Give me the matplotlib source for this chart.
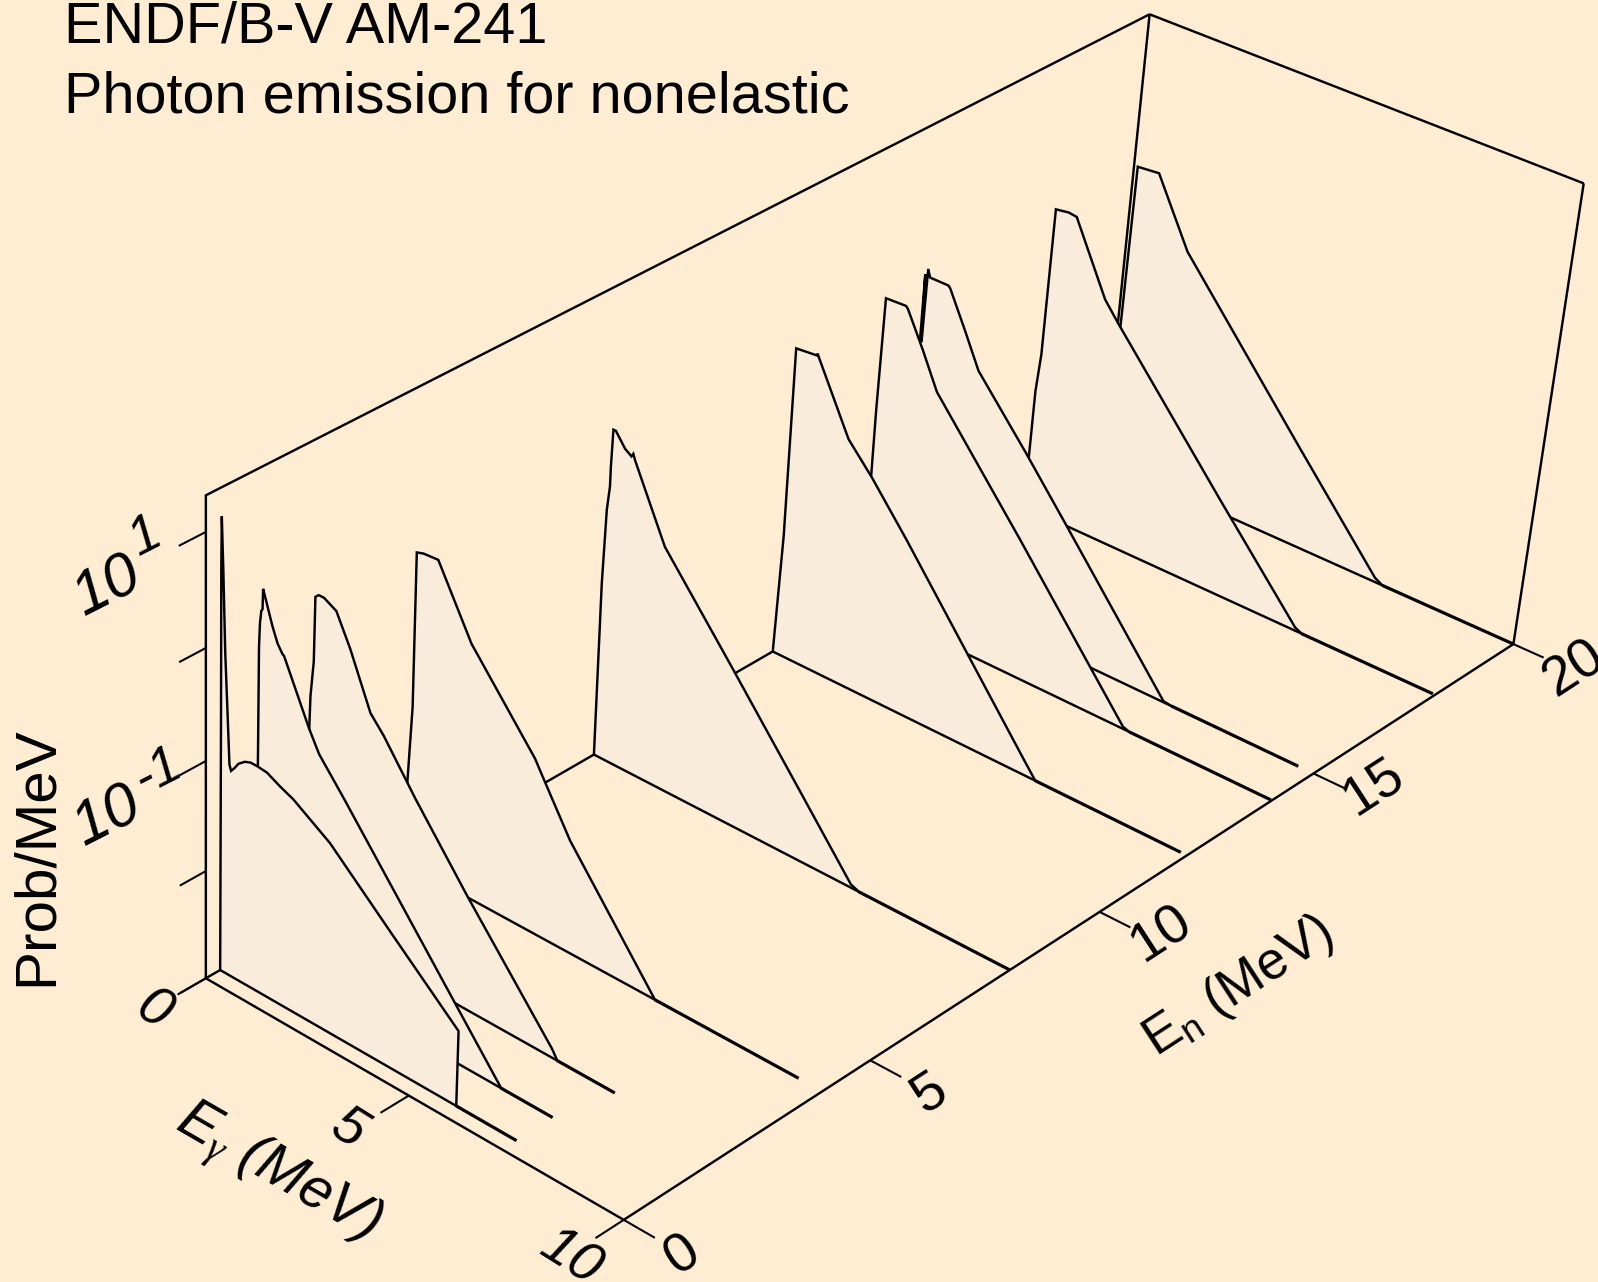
import numpy as np
import matplotlib
matplotlib.use('Agg')
import matplotlib.pyplot as plt

plt.rcParams['font.family'] = ['Liberation Sans', 'DejaVu Sans']
plt.rcParams['mathtext.fontset'] = 'custom'
plt.rcParams['mathtext.rm'] = 'Liberation Sans'
plt.rcParams['mathtext.it'] = 'Liberation Sans:italic'
plt.rcParams['mathtext.cal'] = 'Liberation Serif:italic'
plt.rcParams['mathtext.default'] = 'regular'

BG = '#feedd3'
FILL = '#faecdb'

# incident energies of the slices, MeV
en_vals = [0.28, 1, 2, 4, 8, 12, 14, 15, 18, 20]
# where each spectrum table stops, MeV
eg_end = [7.21, 7.20, 7.48, 9.46, 9.99, 9.86, 9.98, 9.65, 9.95, 10.0]

# photon energy (MeV) and log10(prob/MeV)
eg_1 = [0, 0.01, 0.01, 0.02, 0.06, 0.11, 0.19, 0.22, 0.26, 0.34, 0.44, 0.60, 0.74, 0.90, 1.14, 1.46, 1.78, 2.67, 4.19, 5.79, 5.79]
lp_1 = [-3, -0.64, 0.60, 1.07, 0.61, -0.09, -0.79, -1.06, -1.11, -1.07, -1.01, -0.96, -0.94, -0.94, -0.95, -1.01, -1.06, -1.27, -1.78, -2.31, -3]
eg_2 = [0, 0.00, 0.01, 0.03, 0.06, 0.09, 0.10, 0.15, 0.33, 0.46, 0.58, 0.62, 1.24, 1.49, 2.11, 5.99]
lp_2 = [-3, -1.30, -0.23, -0.02, 0.09, 0.11, 0.29, 0.23, 0.01, -0.12, -0.19, -0.20, -0.72, -0.90, -1.18, -3]
eg_3 = [0, 0.00, 0.02, 0.09, 0.11, 0.19, 0.32, 0.62, 0.97, 1.48, 1.81, 2.60, 3.89, 6.00, 6.13]
lp_3 = [-3, -1.22, -0.92, -0.60, -0.02, 0.01, 0.01, -0.05, -0.32, -0.79, -0.93, -1.34, -1.96, -2.92, -3]
eg_4 = [0, 0.00, 0.09, 0.10, 0.26, 0.62, 1.47, 3.07, 3.32, 3.97, 6.12]
lp_4 = [-3, -2.27, -1.51, -0.11, -0.09, -0.08, -0.67, -1.40, -1.56, -1.97, -3]
eg_5 = [0, 0.00, 0.04, 0.09, 0.09, 0.11, 0.17, 0.41, 0.57, 0.61, 0.66, 1.47, 3.24, 4.96, 6.30, 6.50]
lp_5 = [-3, -1.37, -0.68, -0.46, -0.28, 0.06, 0.06, -0.06, -0.10, -0.07, -0.12, -0.76, -1.56, -2.35, -2.97, -3]
eg_6 = [0, 0.08, 0.08, 0.58, 0.60, 0.62, 1.47, 2.09, 3.02, 6.16, 6.46]
lp_6 = [-3, -1.86, -0.10, -0.08, -0.06, -0.08, -0.70, -0.95, -1.37, -2.86, -3]
eg_7 = [0, 0.07, 0.07, 0.10, 0.59, 0.64, 1.07, 1.48, 3.71, 6.51, 6.67]
lp_7 = [-3, -1.76, -1.13, -0.07, -0.06, -0.08, -0.39, -0.71, -1.70, -2.98, -3]
eg_8 = [0, 0.00, 0.00, 0.04, 0.06, 0.12, 0.57, 0.62, 1.05, 1.45, 2.75, 3.84, 6.48, 6.68]
lp_8 = [-3, -0.73, -0.08, -0.71, -0.02, -0.09, -0.09, -0.11, -0.43, -0.74, -1.30, -1.79, -2.99, -3]
eg_9 = [0, 0.00, 0.01, 0.07, 0.09, 0.40, 0.60, 1.46, 1.83, 4.64, 6.70, 6.87]
lp_9 = [-3, -2.51, -1.85, -1.48, -0.09, -0.07, -0.08, -0.72, -0.89, -2.10, -2.97, -3]
eg_10 = [0, 0.07, 0.09, 0.61, 1.48, 4.60, 6.72, 6.91]
lp_10 = [-3, -1.62, -0.10, -0.08, -0.69, -2.05, -2.96, -3]

eg_all = [eg_1, eg_2, eg_3, eg_4, eg_5, eg_6, eg_7, eg_8, eg_9, eg_10]
lp_all = [lp_1, lp_2, lp_3, lp_4, lp_5, lp_6, lp_7, lp_8, lp_9, lp_10]

z_ticks = [1, 0, -1, -2, -3]
eg_ticks = [0, 5, 10]
en_ticks = [0, 5, 10, 15, 20]

Z0, Z1 = -3, 1.31

# camera: fit a 3x4 projection to the six visible box corners
world = np.array([[0, 0, Z0], [10, 0, Z0], [10, 20, Z0], [0, 0, Z1], [0, 20, Z1], [10, 20, Z1]], float)
pix = np.array([[202, 960], [612, 1197], [1485, 632], [202, 486], [1128, 14], [1554, 180]], float)
A = []
for (x, y, z), (u, v) in zip(world, pix):
    A.append([x, y, z, 1, 0, 0, 0, 0, -u*x, -u*y, -u*z, -u])
    A.append([0, 0, 0, 0, x, y, z, 1, -v*x, -v*y, -v*z, -v])
P = np.linalg.svd(np.array(A))[2][-1].reshape(3, 4)


def proj(eg, en, z):
    eg, en, z = np.broadcast_arrays(np.asarray(eg, float), np.asarray(en, float), np.asarray(z, float))
    q = P @ np.array([eg.ravel(), en.ravel(), z.ravel(), np.ones(eg.size)])
    return q[0]/q[2], q[1]/q[2]


fig = plt.figure(figsize=(15.98, 12.82), dpi=100, facecolor=BG)
ax = fig.add_axes([0, 0, 1, 1])
ax.set_xlim(0, 1568)
ax.set_ylim(1258, 0)
ax.axis('off')

LW = 1.75


def line3(eg, en, z, lw=LW, zorder=2):
    x, y = proj(eg, en, z)
    ax.plot(x, y, color='k', lw=lw, solid_capstyle='butt', solid_joinstyle='miter', zorder=zorder)


# box
line3([0, 0, 0, 10, 10, 10], [20, 20, 0, 0, 20, 20], [Z1, Z0, Z0, Z0, Z0, Z1])
line3([0, 0, 0], [0, 0, 20], [Z0, Z1, Z1])
line3([0, 10], [20, 20], [Z1, Z1])

# ticks
for t in z_ticks:
    line3([0, 0], [0, -0.5], [t, t], lw=1.5)
for t in eg_ticks:
    line3([t, t], [0, -0.55], [Z0, Z0], lw=1.5)
for t in en_ticks:
    line3([10, 10.7], [t, t], [Z0, Z0], lw=1.5)

# slices, back to front
zo = 3
for en, end, eg, lp in list(zip(en_vals, eg_end, eg_all, lp_all))[::-1]:
    x, y = proj(eg, en, lp)
    ax.fill(x, y, facecolor=FILL, edgecolor='none', zorder=zo)
    ax.plot(x, y, color='k', lw=LW, solid_joinstyle='miter', zorder=zo + 1)
    line3([0, eg[-1]], [en, en], [Z0, Z0], zorder=zo + 1)
    line3([eg[-1], end], [en, en], [Z0, Z0], lw=2.3, zorder=zo + 1)
    zo += 2

# labels
ax.text(63, 42, 'ENDF/B-V AM-241', fontsize=41.5, ha='left', va='baseline')
ax.text(63, 110, 'Photon emission for nonelastic', fontsize=41.5, ha='left', va='baseline')

ax.text(36, 840, 'Prob/MeV', fontsize=42, rotation=90, ha='center', va='center')
ax.text(105, 576, '10', fontsize=44, rotation=27, style='italic', ha='center', va='center', rotation_mode='anchor')
ax.text(143, 527, '1', fontsize=38, rotation=27, style='italic', ha='center', va='center', rotation_mode='anchor')
ax.text(105, 802, '10', fontsize=44, rotation=27, style='italic', ha='center', va='center', rotation_mode='anchor')
ax.text(155, 757, '-1', fontsize=38, rotation=27, style='italic', ha='center', va='center', rotation_mode='anchor')

eg_lab_pos = [(150, 992), (342, 1108), (560, 1235)]
for t, (xx, yy) in zip(eg_ticks, eg_lab_pos):
    ax.text(xx, yy, str(t), fontsize=40, rotation=-32, style='italic', ha='center', va='center', rotation_mode='anchor')
en_lab_pos = [(670, 1232), (912, 1073), (1140, 917), (1348, 772), (1545, 657)]
for t, (xx, yy) in zip(en_ticks, en_lab_pos):
    ax.text(xx, yy, str(t), fontsize=40, rotation=33, ha='center', va='center', rotation_mode='anchor')

ax.text(272, 1152, r'E$_{\mathcal{\gamma}}$ (MeV)', fontsize=41, rotation=-30, style='italic', ha='center', va='center', rotation_mode='anchor')
ax.text(1215, 968, r'E$_{n}$ (MeV)', fontsize=38, rotation=33, ha='center', va='center', rotation_mode='anchor')

fig.savefig('out.png', dpi=100, facecolor=BG)
